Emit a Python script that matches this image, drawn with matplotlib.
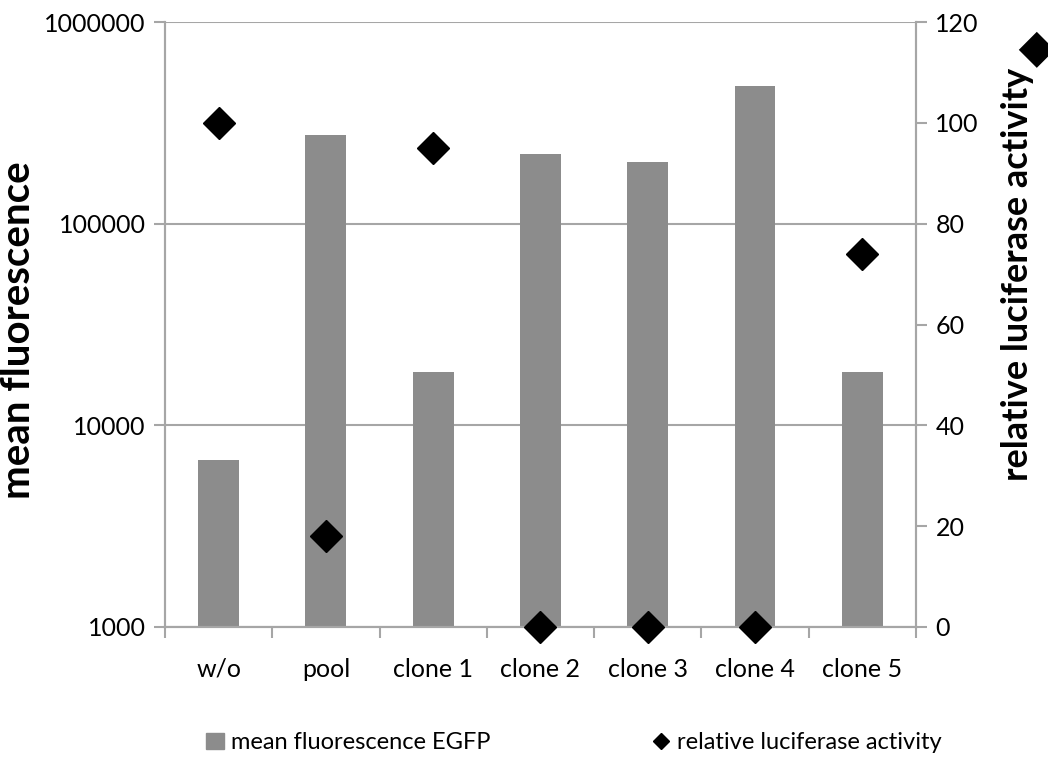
import numpy as np
import matplotlib.pyplot as plt
from matplotlib.lines import Line2D
from matplotlib.patches import Patch

# data
samples = ['w/o', 'pool', 'clone 1', 'clone 2', 'clone 3', 'clone 4', 'clone 5']
fluorescence = [6700, 275000, 18400, 221000, 202000, 481000, 18400]
luciferase = [100, 18, 95, 0, 0, 0, 74]

plt.rcParams['font.family'] = ['Lato', 'DejaVu Sans']
grey = '#a6a6a6'
bar_color = '#8c8c8c'

fig = plt.figure(figsize=(10.48, 7.65), dpi=100)
ax = fig.add_axes([0.1574, 0.1804, 0.7166, 0.7908])
ax2 = ax.twinx()

x = np.arange(len(samples))
ax.bar(x, fluorescence, width=0.38, color=bar_color, zorder=2)
ax.set_yscale('log')
ax.set_ylim(1000, 1000000)
ax.set_xlim(-0.5, len(samples) - 0.5)
ax.set_yticks([1000, 10000, 100000, 1000000])
ax.set_yticklabels(['1000', '10000', '100000', '1000000'])
ax.yaxis.set_minor_locator(plt.NullLocator())
ax.yaxis.grid(True, color=grey, linewidth=1.5, zorder=0)
ax.set_axisbelow(True)

# category ticks sit on the boundaries between groups
ax.set_xticks(np.arange(len(samples) + 1) - 0.5)
ax.set_xticklabels([])
ax.set_xticks(x, minor=True)
ax.set_xticklabels(samples, minor=True)
ax.tick_params(axis='x', which='major', length=8, width=1.5, color=grey, direction='out')
ax.tick_params(axis='x', which='minor', length=0, pad=22, labelsize=18)
ax.tick_params(axis='y', length=8, width=1.5, color=grey, labelsize=18, pad=6)

ax2.plot(x, luciferase, 'D', color='black', markersize=16, clip_on=False, zorder=5)
ax2.set_ylim(0, 120)
ax2.set_yticks(range(0, 121, 20))
ax2.tick_params(axis='y', length=8, width=1.5, color=grey, labelsize=18, pad=6)

for a in (ax, ax2):
    a.spines['top'].set_visible(False)
    for s in ('left', 'right', 'bottom'):
        a.spines[s].set_color(grey)
        a.spines[s].set_linewidth(1.5)

ax.set_ylabel('mean fluorescence', fontsize=29, fontweight='bold', va='center')
ax.yaxis.set_label_coords(-0.195, 0.49)
ax2.set_ylabel('relative luciferase activity', fontsize=26, fontweight='bold', va='center')
ax2.yaxis.set_label_coords(1.135, 0.582)
# the series key drawn at the end of the right axis title
fig.text(0.989, 0.936, '\u25c6', fontsize=34, rotation=90, ha='center', va='center',
         family='DejaVu Sans')

leg1 = fig.legend([Patch(color=bar_color)], ['mean fluorescence EGFP'],
                  loc='center left', bbox_to_anchor=(0.197, 0.029), frameon=False,
                  fontsize=17, handlelength=0.75, handletextpad=0.3,
                  borderpad=0, borderaxespad=0)
leg2 = fig.legend([Line2D([], [], marker='D', color='black', linestyle='none', markersize=8)],
                  ['relative luciferase activity'],
                  loc='center left', bbox_to_anchor=(0.622, 0.029), frameon=False,
                  fontsize=17, handlelength=0.75, handletextpad=0.3,
                  borderpad=0, borderaxespad=0)

fig.savefig('out.png', dpi=100)
